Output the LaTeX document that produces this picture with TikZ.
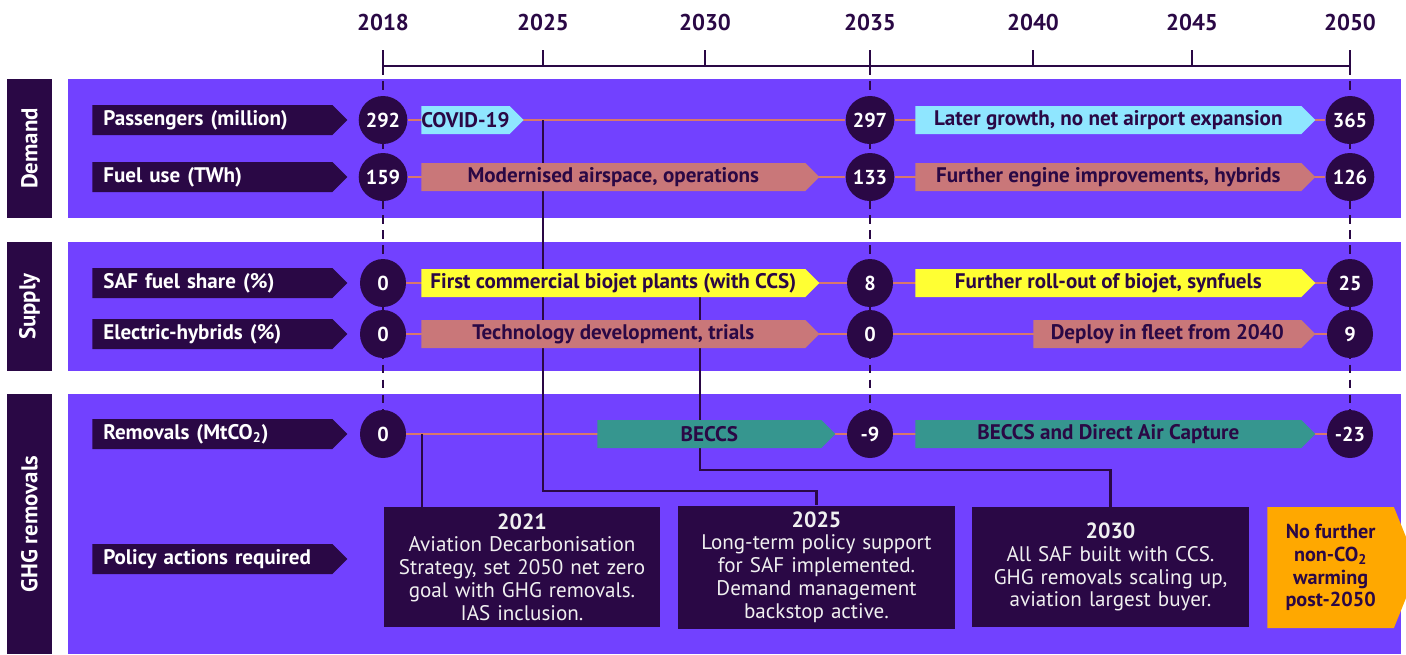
\documentclass[tikz,border=0pt]{standalone}
\usepackage{fontspec}
\setmainfont{PT Sans}
\usetikzlibrary{shapes.symbols,shapes.geometric,backgrounds}
\definecolor{panel}{HTML}{7241FF}
\definecolor{ink}{HTML}{2A0845}
\definecolor{sky}{HTML}{8FE6FF}
\definecolor{rose}{HTML}{C97779}
\definecolor{lemon}{HTML}{FFFF33}
\definecolor{sea}{HTML}{36968F}
\definecolor{amber}{HTML}{FFA800}
\definecolor{rowline}{HTML}{D8786A}

\begin{document}
\begin{tikzpicture}[x=0.02cm,y=-0.02cm,
  val node/.style={ellipse,fill=ink,text=white,font=\fontsize{11.5}{12}\selectfont\bfseries,minimum width=0.92cm,minimum height=0.96cm,inner sep=0pt},
  row label/.style={signal,signal to=east,fill=ink,text=white,font=\fontsize{12}{14}\selectfont\bfseries,minimum height=0.6cm,text width=4.36cm,inner xsep=0.22cm,inner ysep=0pt,anchor=west,align=left},
  phase node/.style={signal,signal to=east,text=ink,font=\fontsize{12}{14}\selectfont\bfseries,minimum height=0.56cm,inner sep=0pt,anchor=west},
  tab node/.style={fill=ink,text=white,rotate=90,minimum height=0.9cm,font=\fontsize{13}{15}\selectfont\bfseries},
  year node/.style={text=ink,font=\fontsize{13}{15}\selectfont\bfseries},
  policy box/.style={fill=ink,text=white!88!gray,align=center,text width=5.3cm,minimum width=5.48cm,minimum height=2.4cm,font=\fontsize{12}{13}\selectfont},
  dash line/.style={ink,line width=1.1pt,dash pattern=on 5pt off 3.5pt},
  row line/.style={rowline,line width=1.1pt},
  policy line/.style={ink,line width=1.2pt}]
\useasboundingbox (0,0) rectangle (1406,654);

\begin{scope}[on background layer]
\fill[white] (0,0) rectangle (1406,654);
\fill[panel] (68,79) rectangle (1401,218);
\fill[panel] (68,242) rectangle (1401,371);
\fill[panel] (68,394) rectangle (1401,654);
\end{scope}

\node[tab node,minimum width=2.78cm] (demand) at (29.5,148.5) {Demand};
\node[tab node,minimum width=2.58cm] (supply) at (29.5,306.5) {Supply};
\node[tab node,minimum width=5.2cm] (ghg) at (29.5,524) {GHG removals};

\foreach \yr/\xx in {2018/383,2025/543,2030/705,2035/870,2040/1033,2045/1192,2050/1350} {
  \node[year node] (y\yr) at (\xx,22) {\yr};
  \coordinate (t\yr) at (\xx,66);
  \draw[ink,line width=1.4pt] (\xx,50) -- (t\yr);
}
\draw[ink,line width=1.4pt] (t2018) -- (t2050);

\node[row label] (lpax) at (92,120) {Passengers (million)};
\node[row label] (lfuel) at (92,177) {Fuel use (TWh)};
\node[row label] (lsaf) at (92,283) {SAF fuel share (\%)};
\node[row label] (lelec) at (92,334) {Electric-hybrids (\%)};
\node[row label] (lrem) at (92,434) {Removals (MtCO\textsubscript{2})};
\node[row label] (lpolicy) at (92,559) {Policy actions required};

\foreach \row/\yy/\a/\b/\c in {pax/120/292/297/365,fuel/177/159/133/126,saf/283/0/8/25,elec/334/0/0/9,rem/434/0/-9/-23} {
  \node[val node] (\row18) at (383,\yy) {\a};
  \node[val node] (\row35) at (870,\yy) {\b};
  \node[val node] (\row50) at (1350,\yy) {\c};
}

\node[phase node,fill=sky,minimum width=2.04cm] (covid) at (421,120) {COVID-19};
\node[phase node,fill=sky,minimum width=8cm] (growth) at (915,120) {Later growth, no net airport expansion};
\node[phase node,fill=rose,minimum width=7.96cm] (airspace) at (421,177) {Modernised airspace, operations};
\node[phase node,fill=rose,minimum width=8cm] (engine) at (915,177) {Further engine improvements, hybrids};
\node[phase node,fill=lemon,minimum width=7.96cm] (biojet) at (421,283) {First commercial biojet plants (with CCS)};
\node[phase node,fill=lemon,minimum width=8cm] (rollout) at (915,283) {Further roll-out of biojet, synfuels};
\node[phase node,fill=rose,minimum width=7.96cm] (trials) at (421,334) {Technology development, trials};
\node[phase node,fill=rose,minimum width=5.64cm] (deploy) at (1033,334) {Deploy in fleet from 2040};
\node[phase node,fill=sea,minimum width=4.76cm] (beccs) at (597,434) {BECCS};
\node[phase node,fill=sea,minimum width=8cm] (dac) at (915,434) {BECCS and Direct Air Capture};

\node[policy box] (p2021) at (522,567) {{\fontsize{12.5}{14}\selectfont\bfseries 2021}\\Aviation Decarbonisation\\Strategy, set 2050 net zero\\goal with GHG removals.\\IAS inclusion.};
\node[policy box] (p2025) at (816.5,567) {{\fontsize{12.5}{14}\selectfont\bfseries 2025}\\Long-term policy support\\for SAF implemented.\\Demand management\\backstop active.};
\node[policy box] (p2030) at (1110.5,567) {{\fontsize{12.5}{14}\selectfont\bfseries 2030}\\All SAF built with CCS.\\GHG removals scaling up,\\aviation largest buyer.};
\node[signal,signal to=east,signal pointer angle=136,fill=amber,text=ink,align=center,font=\fontsize{11.5}{13}\selectfont\bfseries,minimum width=3.02cm,minimum height=2.42cm,inner sep=0pt,anchor=west] (post) at (1267,567.5) {No further\\non-CO\textsubscript{2}\\warming\\post-2050};

\coordinate (k2021) at (422,434);
\coordinate (k2025) at (543,120);
\coordinate (b2025) at (543,491);
\coordinate (k2030) at (700,283);
\coordinate (b2030) at (700,470);

\begin{scope}[on background layer]
\foreach \yr in {18,35,50} \draw[dash line] (t20\yr) -- (rem\yr);
\foreach \row in {pax,fuel,saf,elec,rem} \draw[row line] (\row18) -- (\row35) -- (\row50);
\draw[policy line] (k2021) -- (k2021 |- p2021.north);
\draw[policy line] (k2025) -- (b2025) -| (p2025.north);
\draw[policy line] (k2030) -- (b2030) -| (p2030.north);
\end{scope}
\end{tikzpicture}
\end{document}
